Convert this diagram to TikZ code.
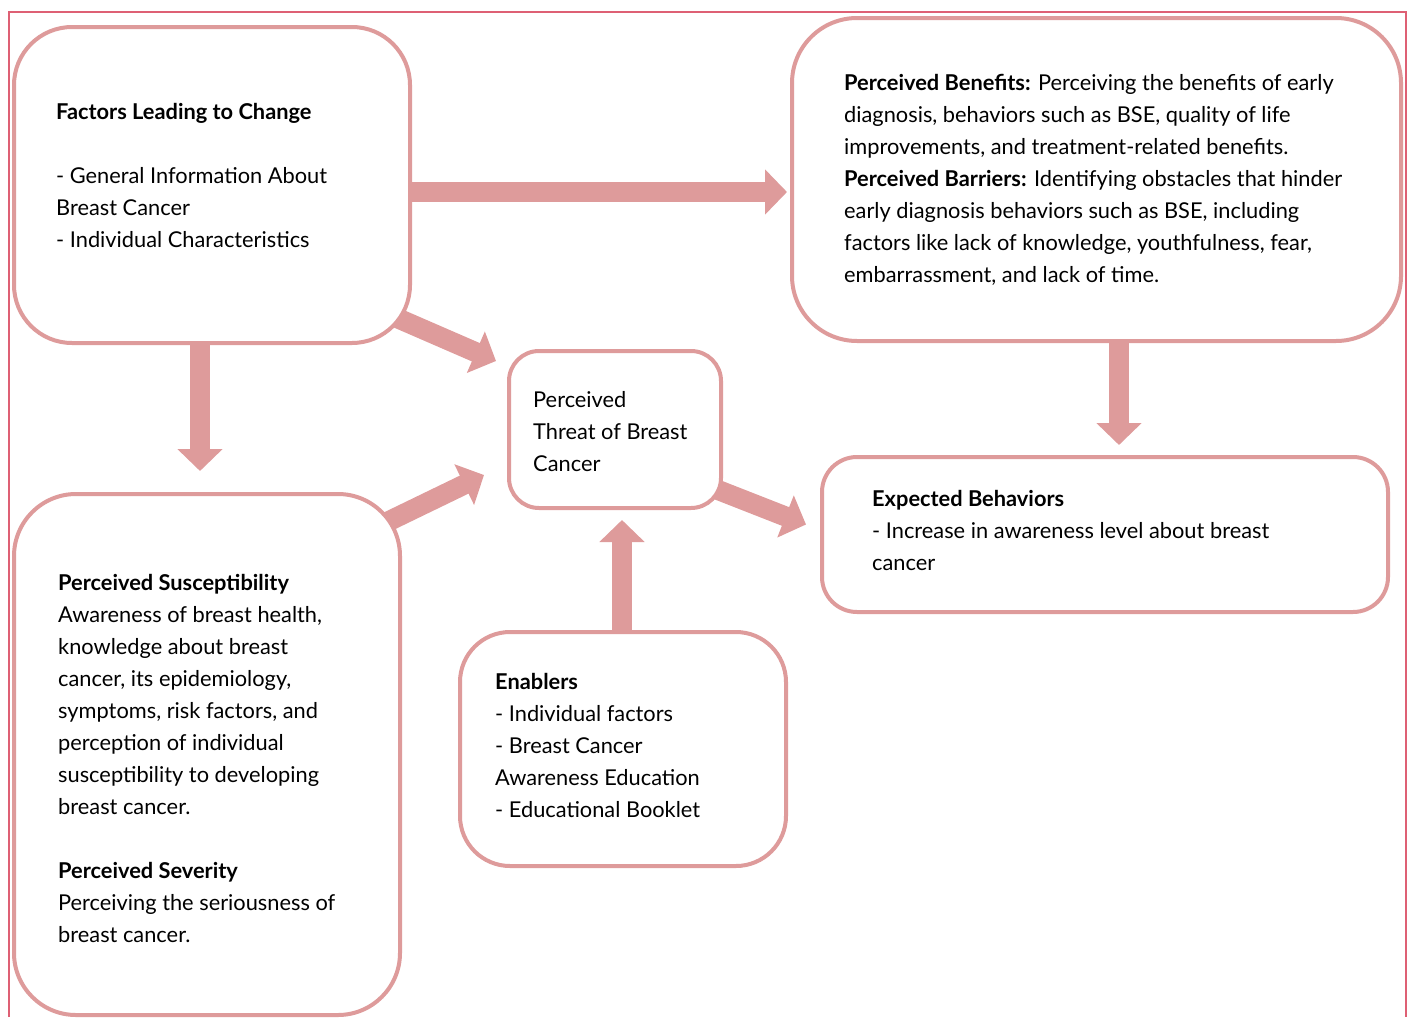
\documentclass[tikz,border=0pt]{standalone}
\usepackage{fontspec}
\setmainfont{Lato}
\usetikzlibrary{arrows.meta,backgrounds,positioning}

\definecolor{rosebox}{RGB}{222,155,155}
\definecolor{roseframe}{RGB}{222,96,116}

\tikzset{
  box/.style={draw=rosebox, line width=4pt, fill=white, rounded corners=#1, inner sep=0pt},
  box/.default=40pt,
  txt/.style={align=left, inner sep=0pt, anchor=west,
    font=\fontsize{21.8}{32}\selectfont},
  flow/.style={draw=rosebox, line width=20pt, -{Triangle[length=22pt,width=44pt]}},
}

\begin{document}
\begin{tikzpicture}[x=1pt, y=-1pt]
	\useasboundingbox (0,0) rectangle (1410,1017);

	% Nodes
	% Factors leading to change
	\node[box=58pt, minimum width=396pt, minimum height=316pt] (factors) at (212,185) {};
	\node[txt, right=44pt of factors.west, yshift=10pt] (factors-txt) {\textbf{Factors Leading to Change}\\[32pt]
		- General Information About\\
		Breast Cancer\\
		- Individual Characteristics};
	% Benefits and barriers
	\node[box=65pt, minimum width=609pt, minimum height=323pt] (benefits) at (1096.5,179.5) {};
	\node[txt, right=54pt of benefits.west] (benefits-txt) {\textbf{Perceived Benefits:} Perceiving the benefits of early\\
		diagnosis, behaviors such as BSE, quality of life\\
		improvements, and treatment-related benefits.\\
		\textbf{Perceived Barriers:} Identifying obstacles that hinder\\
		early diagnosis behaviors such as BSE, including\\
		factors like lack of knowledge, youthfulness, fear,\\
		embarrassment, and lack of time.};
	% Perceived threat
	\node[box=30pt, minimum width=212pt, minimum height=157pt] (threat) at (615,429.5) {};
	\node[txt, right=26pt of threat.west, yshift=-2pt] (threat-txt) {Perceived\\Threat of Breast\\Cancer};
	% Expected behaviors
	\node[box=35pt, minimum width=566pt, minimum height=155pt] (expected) at (1105,534.5) {};
	\node[txt, right=52pt of expected.west, yshift=4pt] (expected-txt) {\textbf{Expected Behaviors}\\
		- Increase in awareness level about breast\\
		cancer};
	% Susceptibility and severity
	\node[box=62pt, minimum width=386pt, minimum height=521pt] (suscept) at (207,754.5) {};
	\node[txt, right=46pt of suscept.west, yshift=-4pt] (suscept-txt) {\textbf{Perceived Susceptibility}\\
		Awareness of breast health,\\
		knowledge about breast\\
		cancer, its epidemiology,\\
		symptoms, risk factors, and\\
		perception of individual\\
		susceptibility to developing\\
		breast cancer.\\[32pt]
		\textbf{Perceived Severity}\\
		Perceiving the seriousness of\\
		breast cancer.};
	% Enablers
	\node[box=50pt, minimum width=326pt, minimum height=234pt] (enablers) at (623,749) {};
	\node[txt, right=37pt of enablers.west, yshift=4pt] (enablers-txt) {\textbf{Enablers}\\
		- Individual factors\\
		- Breast Cancer\\
		Awareness Education\\
		- Educational Booklet};

	% Edges
	\begin{pgfonlayer}{background}
		% Outer frame
		\draw[roseframe, line width=1.2pt] (9,1017) -- (9,12) -- (1406,12) -- (1406,1017);
		% From the factors box
		\draw[flow] ([yshift=-7pt]factors.east) -- ([shift={(-3,12.5)}]benefits.west);
		\draw[flow] ([shift={(-15,-27)}]factors.south east) -- ([shift={(-11,12)}]threat.north west);
		\draw[flow] ([xshift=-12pt]factors.south) -- ([xshift=-7pt,yshift=21pt]suscept.north);
		% Into the threat box
		\draw[flow] ([shift={(-15,30)}]suscept.north east) -- ([shift={(-23,-35)}]threat.south west);
		\draw[flow] ([xshift=-1pt]enablers.north) -- ([xshift=7pt,yshift=-10pt]threat.south);
		% Into the expected behaviors box
		\draw[flow] ([shift={(-5,-20)}]threat.south east) -- ([shift={(-14,-10)}]expected.west);
		\draw[flow] ([xshift=22.5pt]benefits.south) -- ([xshift=14pt,yshift=10pt]expected.north);
	\end{pgfonlayer}
\end{tikzpicture}
\end{document}
